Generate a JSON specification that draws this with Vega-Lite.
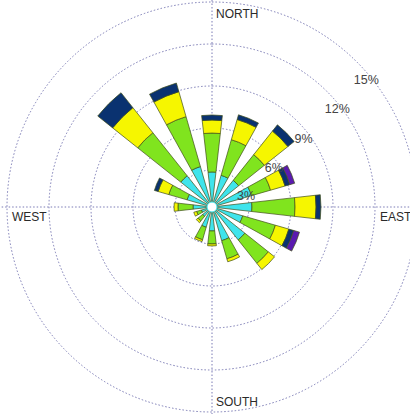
{
  "$schema": "https://vega.github.io/schema/vega-lite/v6.json",
  "autosize": "none",
  "width": 396,
  "height": 414,
  "padding": {"left": 14, "top": 0, "right": 0, "bottom": 0},
  "background": "white",
  "config": {"view": {"stroke": null}},
  "datasets": {
    "bars": [
      {"dir": 0, "cls": "s1", "lo": 0, "hi": 2.86},
      {"dir": 0, "cls": "s2", "lo": 2.86, "hi": 5.64},
      {"dir": 0, "cls": "s3", "lo": 5.64, "hi": 6.57},
      {"dir": 0, "cls": "s4", "lo": 6.57, "hi": 6.93},
      {"dir": 22.5, "cls": "s1", "lo": 0, "hi": 2.71},
      {"dir": 22.5, "cls": "s2", "lo": 2.71, "hi": 5.36},
      {"dir": 22.5, "cls": "s3", "lo": 5.36, "hi": 6.86},
      {"dir": 22.5, "cls": "s4", "lo": 6.86, "hi": 7.21},
      {"dir": 45, "cls": "s1", "lo": 0, "hi": 2.79},
      {"dir": 45, "cls": "s2", "lo": 2.79, "hi": 5.14},
      {"dir": 45, "cls": "s3", "lo": 5.14, "hi": 7.29},
      {"dir": 45, "cls": "s4", "lo": 7.29, "hi": 7.86},
      {"dir": 67.5, "cls": "s1", "lo": 0, "hi": 3.29},
      {"dir": 67.5, "cls": "s2", "lo": 3.29, "hi": 4.71},
      {"dir": 67.5, "cls": "s3", "lo": 4.71, "hi": 5.79},
      {"dir": 67.5, "cls": "s4", "lo": 5.79, "hi": 6.14},
      {"dir": 67.5, "cls": "s5", "lo": 6.14, "hi": 6.5},
      {"dir": 90, "cls": "s1", "lo": 0, "hi": 3.21},
      {"dir": 90, "cls": "s2", "lo": 3.21, "hi": 6.29},
      {"dir": 90, "cls": "s3", "lo": 6.29, "hi": 7.79},
      {"dir": 90, "cls": "s4", "lo": 7.79, "hi": 8.14},
      {"dir": 112.5, "cls": "s1", "lo": 0, "hi": 2.64},
      {"dir": 112.5, "cls": "s2", "lo": 2.64, "hi": 5.07},
      {"dir": 112.5, "cls": "s3", "lo": 5.07, "hi": 6.07},
      {"dir": 112.5, "cls": "s4", "lo": 6.07, "hi": 6.43},
      {"dir": 112.5, "cls": "s5", "lo": 6.43, "hi": 6.86},
      {"dir": 135, "cls": "s1", "lo": 0, "hi": 3.36},
      {"dir": 135, "cls": "s2", "lo": 3.36, "hi": 5.5},
      {"dir": 135, "cls": "s3", "lo": 5.5, "hi": 6.07},
      {"dir": 157.5, "cls": "s1", "lo": 0, "hi": 2.86},
      {"dir": 157.5, "cls": "s2", "lo": 2.86, "hi": 4.21},
      {"dir": 157.5, "cls": "s3", "lo": 4.21, "hi": 4.43},
      {"dir": 180, "cls": "s1", "lo": 0, "hi": 2.07},
      {"dir": 180, "cls": "s2", "lo": 2.07, "hi": 3.0},
      {"dir": 180, "cls": "s3", "lo": 3.0, "hi": 3.14},
      {"dir": 202.5, "cls": "s1", "lo": 0, "hi": 1.86},
      {"dir": 202.5, "cls": "s2", "lo": 1.86, "hi": 2.79},
      {"dir": 202.5, "cls": "s3", "lo": 2.79, "hi": 2.93},
      {"dir": 225, "cls": "s1", "lo": 0, "hi": 1.21},
      {"dir": 225, "cls": "s2", "lo": 1.21, "hi": 1.64},
      {"dir": 225, "cls": "s3", "lo": 1.64, "hi": 1.79},
      {"dir": 247.5, "cls": "s1", "lo": 0, "hi": 1.14},
      {"dir": 247.5, "cls": "s2", "lo": 1.14, "hi": 1.5},
      {"dir": 247.5, "cls": "s3", "lo": 1.5, "hi": 1.71},
      {"dir": 270, "cls": "s1", "lo": 0, "hi": 1.71},
      {"dir": 270, "cls": "s2", "lo": 1.71, "hi": 2.79},
      {"dir": 270, "cls": "s3", "lo": 2.79, "hi": 3.07},
      {"dir": 292.5, "cls": "s1", "lo": 0, "hi": 2.21},
      {"dir": 292.5, "cls": "s2", "lo": 2.21, "hi": 3.57},
      {"dir": 292.5, "cls": "s3", "lo": 3.57, "hi": 4.36},
      {"dir": 292.5, "cls": "s4", "lo": 4.36, "hi": 4.64},
      {"dir": 315, "cls": "s1", "lo": 0, "hi": 3.21},
      {"dir": 315, "cls": "s2", "lo": 3.21, "hi": 7.14},
      {"dir": 315, "cls": "s3", "lo": 7.14, "hi": 9.43},
      {"dir": 315, "cls": "s4", "lo": 9.43, "hi": 10.79},
      {"dir": 337.5, "cls": "s1", "lo": 0, "hi": 3.36},
      {"dir": 337.5, "cls": "s2", "lo": 3.36, "hi": 7.07},
      {"dir": 337.5, "cls": "s3", "lo": 7.07, "hi": 8.93},
      {"dir": 337.5, "cls": "s4", "lo": 8.93, "hi": 9.57}
    ],
    "rings": [{"pct": 3}, {"pct": 6}, {"pct": 9}, {"pct": 12}, {"pct": 15}],
    "compass": [
      {"label": "NORTH", "ang": 1.21, "rad": 13.86},
      {"label": "EAST", "ang": 94.76, "rad": 12.4},
      {"label": "SOUTH", "ang": 178.85, "rad": 14.57},
      {"label": "WEST", "ang": 266.0, "rad": 14.68}
    ],
    "ticks": [
      {"label": "3%", "ang": 72, "rad": 2.91},
      {"label": "6%", "ang": 57.8, "rad": 5.57},
      {"label": "9%", "ang": 53.5, "rad": 8.5},
      {"label": "12%", "ang": 52, "rad": 11.71},
      {"label": "15%", "ang": 50.5, "rad": 14.64}
    ]
  },
  "layer": [
    {
      "data": {"values": [{"k": 0}]},
      "mark": {"type": "rule", "stroke": "#7b7bb5", "strokeWidth": 1, "strokeDash": [1.5, 2]},
      "encoding": {
        "x": {"datum": 0, "type": "quantitative", "scale": {"domain": [-1, 1], "nice": false}, "axis": null}
      }
    },
    {
      "data": {"values": [{"k": 0}]},
      "mark": {"type": "rule", "stroke": "#7b7bb5", "strokeWidth": 1, "strokeDash": [1.5, 2]},
      "encoding": {
        "x": {"datum": -1.08, "type": "quantitative", "scale": {"domain": [-1, 1], "nice": false}, "axis": null},
        "x2": {"datum": 1},
        "y": {"datum": 0, "type": "quantitative", "scale": {"domain": [-1, 1], "nice": false}, "axis": null}
      }
    },
    {
      "data": {"name": "rings"},
      "mark": {"type": "arc", "filled": false, "theta": 0, "theta2": 6.2832, "stroke": "#7b7bb5", "strokeWidth": 1, "strokeDash": [1.5, 2]},
      "encoding": {
        "radius": {"field": "pct", "type": "quantitative", "stack": null, "scale": {"type": "linear", "domain": [0.357, 15], "range": [0, 205], "zero": false, "clamp": true, "nice": false}}
      }
    },
    {
      "data": {"name": "bars"},
      "mark": {"type": "arc", "thetaOffset": -0.113, "theta2Offset": 0.113, "stroke": "#3f4d18", "strokeWidth": 0.7},
      "encoding": {
        "theta": {"field": "dir", "type": "quantitative", "stack": null, "scale": {"domain": [0, 360], "range": [0, 6.283185], "zero": false, "nice": false}},
        "theta2": {"field": "dir"},
        "radius": {"field": "hi", "type": "quantitative", "stack": null, "scale": {"type": "linear", "domain": [0.357, 15], "range": [0, 205], "zero": false, "clamp": true, "nice": false}},
        "radius2": {"field": "lo"},
        "color": {"field": "cls", "type": "nominal", "legend": null, "scale": {"domain": ["s1", "s2", "s3", "s4", "s5"], "range": ["#3fe4ec", "#80e41e", "#f6f600", "#0a3270", "#5a1ab0"]}}
      }
    },
    {
      "data": {"values": [{"k": 0}]},
      "mark": {"type": "arc", "theta": 0, "theta2": 6.2832, "fill": "white", "stroke": "#3fe4ec", "strokeWidth": 1},
      "encoding": {
        "radius": {"datum": 0.714, "type": "quantitative", "stack": null, "scale": {"type": "linear", "domain": [0.357, 15], "range": [0, 205], "zero": false, "clamp": true, "nice": false}}
      }
    },
    {
      "data": {"name": "compass"},
      "mark": {"type": "text", "align": "left", "baseline": "alphabetic", "font": "Liberation Sans", "fontSize": 12, "fill": "#2a2a2a"},
      "encoding": {
        "theta": {"field": "ang", "type": "quantitative", "stack": null, "scale": {"domain": [0, 360], "range": [0, 6.283185], "zero": false, "nice": false}},
        "radius": {"field": "rad", "type": "quantitative", "stack": null, "scale": {"type": "linear", "domain": [0.357, 15], "range": [0, 205], "zero": false, "clamp": true, "nice": false}},
        "text": {"field": "label"}
      }
    },
    {
      "data": {"name": "ticks"},
      "mark": {"type": "text", "align": "center", "baseline": "middle", "font": "Liberation Sans", "fontSize": 12.5, "fill": "#444444"},
      "encoding": {
        "theta": {"field": "ang", "type": "quantitative", "stack": null, "scale": {"domain": [0, 360], "range": [0, 6.283185], "zero": false, "nice": false}},
        "radius": {"field": "rad", "type": "quantitative", "stack": null, "scale": {"type": "linear", "domain": [0.357, 15], "range": [0, 205], "zero": false, "clamp": true, "nice": false}},
        "text": {"field": "label"}
      }
    }
  ]
}
